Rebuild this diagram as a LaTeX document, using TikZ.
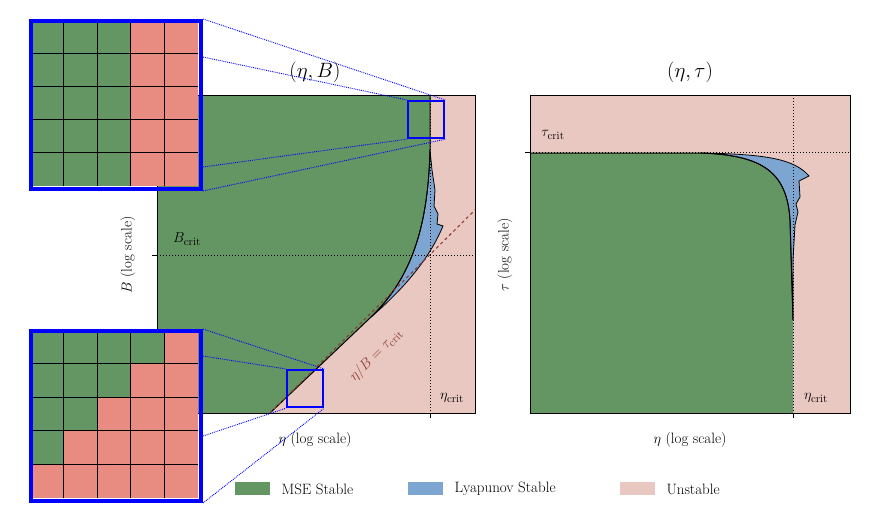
\documentclass[tikz,border=0pt]{standalone}
\usepackage{amsmath,amssymb,bm}
\usetikzlibrary{positioning,calc}
\definecolor{msegreen}{RGB}{100,150,100}
\definecolor{lyablue}{RGB}{125,165,210}
\definecolor{unpink}{RGB}{234,200,194}
\definecolor{cellpink}{RGB}{232,140,130}
\definecolor{dashbrown}{RGB}{140,60,50}
\tikzset{
  axbox/.style={draw=black,line width=1pt},
  critline/.style={dotted,line width=1pt},
  zoombox/.style={draw=blue,line width=2.2pt},
  zoomlink/.style={blue,densely dotted,line width=0.9pt},
  lbl/.style={font=\fontsize{15}{18}\selectfont},
}
\begin{document}
\begin{tikzpicture}[x=1pt,y=-1pt]
\useasboundingbox (0,0) rectangle (870,519);
% left panel
\fill[unpink] (157,95) rectangle (475,413);
\fill[msegreen] (157,95) -- (430,95) -- (430,150)
  .. controls (428,230) and (410,280) .. (370,318) -- (270,413) -- (157,413) -- cycle;
\filldraw[fill=lyablue,line width=0.8pt] (370,318) .. controls (400,292) and (428,262) .. (443,226)
  -- (437,224) -- (438,214) -- (434,206) -- (435,190) -- (432,170) -- (430,150)
  .. controls (428,230) and (410,280) .. (370,318) -- cycle;
\draw[line width=1pt] (430,95) -- (430,150)
  .. controls (428,230) and (410,280) .. (370,318) -- (270,413);
\draw[dashed,dashbrown,line width=1.1pt] (270,413) -- (475,210);
\draw[critline] (157,255) -- (475,255);
\draw[critline] (430,95) -- (430,413);
\node[axbox,minimum width=318pt,minimum height=318pt,anchor=north west,inner sep=0pt] (axB) at (157,95) {};
\draw (157,255) -- ++(-5,0);
\draw (430,413) -- ++(0,5);
\node[font=\fontsize{20}{24}\selectfont] (titleB) at (315,72) {$(\eta,B)$};
\node[lbl] (bcrit) at (187,239) {$B_{\mathrm{crit}}$};
\node[lbl] (ecritB) at (452,398) {$\eta_{\mathrm{crit}}$};
\node[lbl,rotate=45,text=dashbrown] (ratio) at (376,355) {$\eta/B=\tau_{\mathrm{crit}}$};
\node[lbl,rotate=90] (ylabB) at (128,255) {$B$ (log scale)};
\node[lbl] (xlabB) at (315,440) {$\eta$ (log scale)};
\node[zoombox,minimum width=36pt,minimum height=37pt,anchor=north west,inner sep=0pt] (zt) at (407,100) {};
\node[zoombox,minimum width=36pt,minimum height=37pt,anchor=north west,inner sep=0pt] (zb) at (286,369) {};
% top inset
\fill[msegreen] (30,20) rectangle (130.8,186);
\fill[cellpink] (130.8,20) rectangle (198,186);
\foreach \i in {1,...,4} {
  \draw[line width=0.7pt] (30+\i*33.6,20) -- ++(0,166);
  \draw[line width=0.7pt] (30,20+\i*33.2) -- ++(168,0);
}
\node[zoombox,line width=4pt,minimum width=170pt,minimum height=168pt,anchor=north west,inner sep=0pt] (it) at (29,19) {};
% bottom inset
\foreach \r/\g in {0/4,1/3,2/2,3/1,4/0} {
  \fill[msegreen] (30,330+\r*33.6) rectangle ++(\g*33.6,33.6);
  \fill[cellpink] (30+\g*33.6,330+\r*33.6) rectangle (198,330+\r*33.6+33.6);
}
\foreach \i in {1,...,4} {
  \draw[line width=0.7pt] (30+\i*33.6,330) -- ++(0,168);
  \draw[line width=0.7pt] (30,330+\i*33.6) -- ++(168,0);
}
\node[zoombox,line width=4pt,minimum width=170pt,minimum height=170pt,anchor=north west,inner sep=0pt] (ib) at (29,329) {};
\draw[zoomlink] (it.north east) -- (zt.north east);
\draw[zoomlink] ($(it.east)+(0,-48)$) -- (zt.north west);
\draw[zoomlink] ($(it.east)+(0,62)$) -- (zt.south west);
\draw[zoomlink] (it.south east) -- (zt.south east);
\draw[zoomlink] (ib.north east) -- (zb.north east);
\draw[zoomlink] ($(ib.east)+(0,-60)$) -- (zb.north west);
\draw[zoomlink] ($(ib.east)+(0,20)$) -- (zb.south west);
\draw[zoomlink] (ib.south east) -- (zb.south east);
% right panel
\fill[unpink] (530,95) rectangle (850,413);
\fill[msegreen] (530,153) -- (700,153) .. controls (760,155) and (787,170) .. (790,220)
  -- (793,320) -- (793,413) -- (530,413) -- cycle;
\filldraw[fill=lyablue,line width=0.8pt] (700,153) .. controls (770,154) and (795,160) .. (809,176)
  -- (799,181) -- (800,197) -- (796,204) -- (798,212) -- (795,225) -- (793,260) -- (793,320)
  -- (790,220) .. controls (787,170) and (760,155) .. (700,153) -- cycle;
\draw[line width=1pt] (530,153) -- (700,153) .. controls (760,155) and (787,170) .. (790,220)
  -- (793,320);
\draw[critline] (530,152) -- (850,152);
\draw[critline] (793,95) -- (793,413);
\node[axbox,minimum width=320pt,minimum height=318pt,anchor=north west,inner sep=0pt] (axT) at (530,95) {};
\draw (530,152) -- ++(-5,0);
\draw (793,413) -- ++(0,5);
\node[font=\fontsize{20}{24}\selectfont] (titleT) at (690,72) {$(\eta,\tau)$};
\node[lbl] (tcrit) at (553,135) {$\tau_{\mathrm{crit}}$};
\node[lbl] (ecritT) at (816,398) {$\eta_{\mathrm{crit}}$};
\node[lbl,rotate=90] (ylabT) at (505,255) {$\tau$ (log scale)};
\node[lbl] (xlabT) at (690,440) {$\eta$ (log scale)};
% legend
\fill[msegreen] (235,482) rectangle (270,495);
\node[lbl,anchor=west] (lgA) at (278,489) {MSE Stable};
\fill[lyablue] (408,482) rectangle (443,495);
\node[lbl,anchor=west] (lgB) at (451,489) {Lyapunov Stable};
\fill[unpink] (620,482) rectangle (655,495);
\node[lbl,anchor=west] (lgC) at (663,489) {Unstable};
\end{tikzpicture}
\end{document}
